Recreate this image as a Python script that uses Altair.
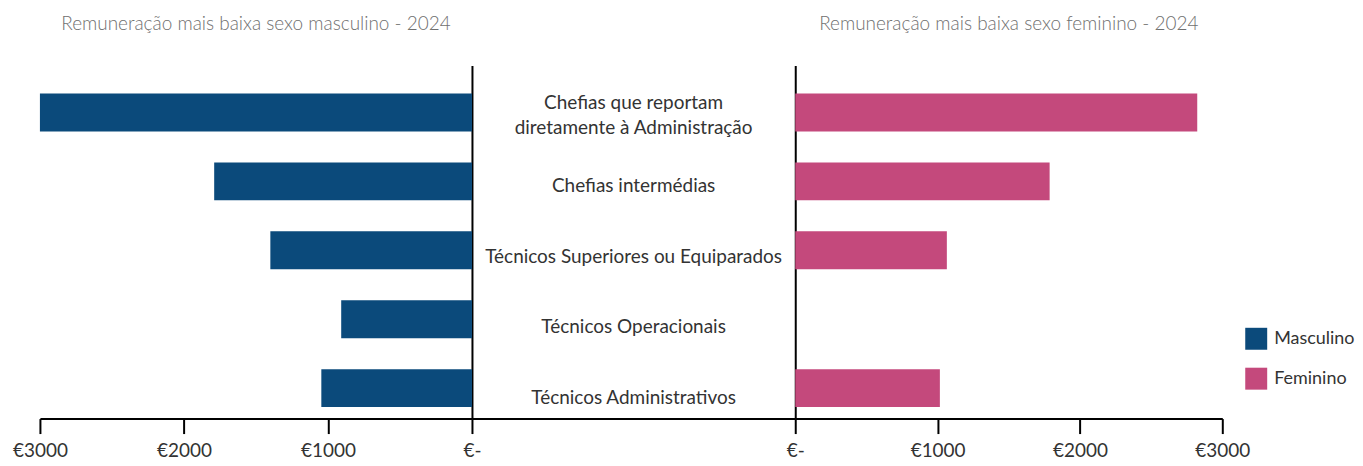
import altair as alt
import pandas as pd

categorias = [
    "Chefias que reportam\ndiretamente à Administração",
    "Chefias intermédias",
    "Técnicos Superiores ou Equiparados",
    "Técnicos Operacionais",
    "Técnicos Administrativos",
]
masculino = [3000, 1790, 1400, 908, 1046]
feminino = [2824, 1787, 1065, 0, 1016]
sexos = ["Masculino", "Feminino"]
cores = ["#0B4A7B", "#C4497C"]
ticks = [0, 1000, 2000, 3000]

df = pd.DataFrame(
    [{"cat": c, "sexo": "Masculino", "valor": v} for c, v in zip(categorias, masculino)]
    + [{"cat": c, "sexo": "Feminino", "valor": v} for c, v in zip(categorias, feminino)]
)
labels_df = pd.DataFrame({"cat": categorias})

FONT = "Lato"
H = 354
LINE_H = 25
yscale = alt.Scale(domain=categorias, paddingInner=0.45, paddingOuter=0.287, align=0.71)
color = alt.Color(
    "sexo:N",
    scale=alt.Scale(domain=sexos, range=cores),
    legend=alt.Legend(
        title=None, symbolType="square", symbolSize=484, symbolStrokeWidth=0,
        labelFontSize=18, labelColor="#333333", labelFont=FONT, rowPadding=18,
        orient="none", legendX=1208, legendY=263, labelOffset=7, padding=0,
    ),
)
label_expr = "datum.value == 0 ? '€-' : '€' + datum.value"
xaxis = alt.Axis(
    values=ticks, labelExpr=label_expr, title=None, grid=False, labelFlush=False,
    tickColor="black", tickWidth=2, tickSize=15, domainColor="black", domainWidth=2,
    labelFontSize=19, labelColor="#333333", labelPadding=8, labelFont=FONT,
)
title_kw = dict(fontSize=19, font=FONT, color="#6f6f6f", fontWeight=300, offset=31)

left = alt.Chart(df).transform_filter("datum.sexo == 'Masculino'").mark_bar().encode(
    x=alt.X("valor:Q", scale=alt.Scale(domain=[0, 3000], reverse=True, nice=False), axis=xaxis),
    y=alt.Y("cat:N", scale=yscale, sort=categorias,
            axis=alt.Axis(orient="right", labels=False, ticks=False, title=None,
                          domainColor="black", domainWidth=2)),
    color=color,
).properties(
    width=433, height=H,
    title=alt.TitleParams("Remuneração mais baixa sexo masculino - 2024", **title_kw),
)

text_kw = dict(fontSize=19, font=FONT, color="#333333", lineBreak="\n", align="center",
               baseline="middle", lineHeight=LINE_H)
mid_x = alt.XDatum(0.5, type="quantitative", scale=alt.Scale(domain=[0, 1]),
                   axis=alt.Axis(labels=False, ticks=False, title=None, grid=False,
                                 domainColor="black", domainWidth=2))
mid_y = alt.Y("cat:N", scale=yscale, sort=categorias, axis=None)
mid_base = alt.Chart(labels_df)
single = mid_base.transform_filter("indexof(datum.cat, '\\n') < 0").mark_text(**text_kw).encode(
    x=mid_x, y=mid_y, text="cat:N")
multi = mid_base.transform_filter("indexof(datum.cat, '\\n') >= 0").mark_text(
    dy=-LINE_H / 2, **text_kw).encode(x=mid_x, y=mid_y, text="cat:N")
middle = alt.layer(single, multi).properties(width=324, height=H)

right = alt.Chart(df).transform_filter("datum.sexo == 'Feminino'").mark_bar().encode(
    x=alt.X("valor:Q", scale=alt.Scale(domain=[0, 3000], nice=False), axis=xaxis),
    y=alt.Y("cat:N", scale=yscale, sort=categorias,
            axis=alt.Axis(orient="left", labels=False, ticks=False, title=None,
                          domainColor="black", domainWidth=2)),
    color=color,
).properties(
    width=428, height=H,
    title=alt.TitleParams("Remuneração mais baixa sexo feminino - 2024", **title_kw),
)

chart = alt.hconcat(left, middle, right, spacing=0, bounds="flush").properties(
    padding={"left": 4, "top": 7, "right": 0, "bottom": 0}
).configure(font=FONT, view=alt.ViewConfig(stroke=None))

chart.save("out.html", embed_options={"renderer": "svg", "actions": False})
